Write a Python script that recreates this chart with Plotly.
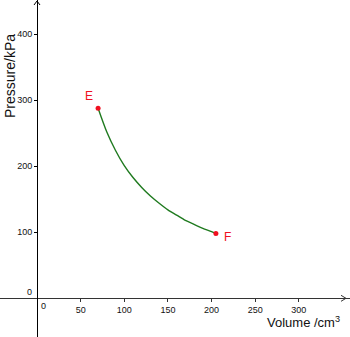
import plotly.graph_objects as go

# Data
volume = [70, 80, 90, 100, 110, 120, 130, 140, 150, 160, 170, 180, 190, 200, 205]
pressure = [288, 252, 224, 201, 183, 168, 155, 144, 134, 126, 118, 112, 106, 101, 98]
point_names = ["E", "F"]
point_v = [70, 205]
point_p = [288, 98]
x_ticks = [50, 100, 150, 200, 250, 300]
y_ticks = [100, 200, 300, 400]

W, H = 350, 337
x0px, y0px = 37, 298.3
xs, ys = 0.8727, 0.66
xr = [-x0px / xs, (W - x0px) / xs]
yr = [(y0px - H) / ys, y0px / ys]

fig = go.Figure()
fig.add_trace(go.Scatter(x=volume, y=pressure, mode="lines",
                         line=dict(color="#1f7a1f", width=1.4, shape="spline", smoothing=0.8),
                         hoverinfo="skip"))
fig.add_trace(go.Scatter(x=point_v, y=point_p, mode="markers",
                         marker=dict(color="#f01020", size=5),
                         hoverinfo="skip"))

tickfont = dict(family="Liberation Sans, Arial", size=9, color="#111")
fig.update_layout(
    width=W, height=H, margin=dict(l=0, r=0, t=0, b=0),
    paper_bgcolor="white", plot_bgcolor="white", showlegend=False,
    xaxis=dict(range=xr, domain=[0, 1], anchor="free", position=(H - y0px) / H,
               showline=True, linecolor="#333", linewidth=1, ticks="outside",
               ticklen=3, tickcolor="#333", tickvals=x_ticks, showgrid=False,
               zeroline=False, tickfont=tickfont, automargin=False, fixedrange=True),
    yaxis=dict(range=yr, domain=[0, 1], anchor="free", position=x0px / W,
               showline=True, linecolor="black", linewidth=1, ticks="outside",
               ticklen=3, tickcolor="black", tickvals=y_ticks, showgrid=False,
               zeroline=False, tickfont=tickfont, automargin=False, fixedrange=True),
)

# zero labels
fig.add_annotation(x=0, y=0, text="0", showarrow=False, xshift=6, yshift=-8,
                   font=tickfont)
fig.add_annotation(x=0, y=0, text="0", showarrow=False, xshift=-8, yshift=6,
                   font=tickfont)

# point labels
offsets = {"E": (-9, 12), "F": (12, -3)}
for n, v, p in zip(point_names, point_v, point_p):
    dx, dy = offsets[n]
    fig.add_annotation(x=v, y=p, text=n, showarrow=False, xshift=dx, yshift=dy,
                       font=dict(family="Liberation Sans, Arial", size=12, color="#f01020"))

# axis titles
fig.add_annotation(xref="paper", yref="paper", x=265 / W, y=1 - 322 / H,
                   xanchor="left", yanchor="middle", showarrow=False,
                   text="Volume /cm<sup>3</sup>",
                   font=dict(family="Liberation Sans, Arial", size=13, color="#111"))
fig.add_annotation(xref="paper", yref="paper", x=0, y=1 - 76 / H,
                   xanchor="left", yanchor="middle", showarrow=False, textangle=-90,
                   text="Pressure/kPa",
                   font=dict(family="Liberation Sans, Arial", size=14, color="#111"))

# arrowheads
fig.add_shape(type="path", xref="x", yref="y", xsizemode="pixel", ysizemode="pixel",
              xanchor=0, yanchor=yr[1], path="M -3,-5 L 0,-1 L 3,-5",
              line=dict(color="black", width=1))
fig.add_shape(type="path", xref="x", yref="y", xsizemode="pixel", ysizemode="pixel",
              xanchor=(346 - x0px) / xs, yanchor=0, path="M -5,-3 L 0,0 L -5,3",
              line=dict(color="#333", width=1))

fig.write_html("out.html")
